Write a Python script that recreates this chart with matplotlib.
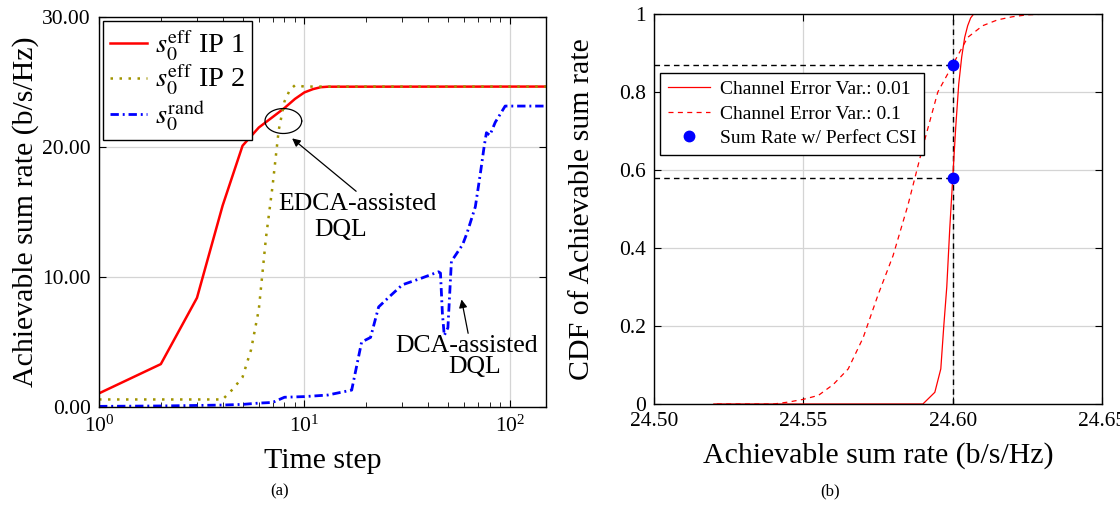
import numpy as np
import matplotlib
matplotlib.use("Agg")
import matplotlib.pyplot as plt
from matplotlib.ticker import FuncFormatter, MultipleLocator

plt.rcParams["font.family"] = ["Liberation Serif", "DejaVu Serif"]
plt.rcParams["mathtext.fontset"] = "stix"

# DATA (a): sum rate vs time step
t_ip1 = [1, 2, 3, 4, 5, 6, 7, 8, 9, 10, 11, 12, 13, 150]
r_ip1 = [1.05, 3.3, 8.4, 15.5, 20.1, 21.5, 22.3, 23.0, 23.7, 24.2, 24.45, 24.6, 24.64, 24.65]

t_ip2 = [1, 2, 3, 4, 4.5, 5, 5.5, 6, 6.5, 7, 7.5, 8, 8.5, 9, 10, 150]
r_ip2 = [0.58, 0.58, 0.58, 0.58, 1.4, 2.3, 4.4, 7.5, 13.0, 17.0, 21.3, 23.5, 24.4, 24.75, 24.65, 24.65]

t_rand = [1, 2, 3, 4, 5, 6, 7, 8, 10, 13, 17, 19, 21, 23, 26, 30, 37, 45, 46, 47,
          48, 50, 52, 53, 59, 62, 68, 72, 75, 77, 80, 85, 95, 150]
r_rand = [0.05, 0.08, 0.12, 0.15, 0.2, 0.3, 0.35, 0.75, 0.8, 0.92, 1.3, 5.0, 5.35, 7.7, 8.5, 9.4, 9.9, 10.4, 10.3, 7.2,
          5.5, 6.1, 11.2, 11.4, 12.5, 13.4, 15.4, 18.0, 20.0, 21.1, 20.9, 21.9, 23.15, 23.15]

# DATA (b): CDF of achievable sum rate
x_var001 = [24.520, 24.590, 24.594, 24.596, 24.597, 24.598, 24.599, 24.600, 24.601, 24.602,
            24.603, 24.604, 24.605, 24.606, 24.607, 24.612]
cdf_var001 = [0, 0, 0.03, 0.09, 0.2, 0.3, 0.45, 0.58, 0.71, 0.82, 0.89, 0.94, 0.97, 0.99, 1.0, 1.0]

x_var01 = [24.521, 24.540, 24.545, 24.550, 24.555, 24.560, 24.565, 24.570, 24.575, 24.580, 24.585,
           24.590, 24.595, 24.600, 24.605, 24.610, 24.615, 24.620, 24.625, 24.633]
cdf_var01 = [0, 0, 0.005, 0.012, 0.022, 0.05, 0.09, 0.17, 0.28, 0.38, 0.51, 0.66, 0.80, 0.87, 0.94,
             0.97, 0.985, 0.993, 0.998, 1.0]

perfect_x = [24.60, 24.60]
perfect_cdf = [0.87, 0.58]

# PLOT
fig = plt.figure(figsize=(11.2, 5.27), dpi=100)
ax1 = fig.add_axes([0.0884, 0.2277, 0.399, 0.740])
ax2 = fig.add_axes([0.584, 0.2334, 0.400, 0.740])

for ax in (ax1, ax2):
    ax.set_axisbelow(True)
    ax.grid(True, which="major", color="#d4d4d4", lw=0.9)
    ax.tick_params(which="both", direction="in", top=True, right=True, labelsize=15.5, pad=6)
    ax.tick_params(which="major", length=5, width=0.8)
    ax.tick_params(which="minor", length=3.5, width=0.6)
    for s in ax.spines.values():
        s.set_linewidth(1.0)

# (a)
ax1.plot(t_ip1, r_ip1, color="red", lw=1.8, label=r"$s_0^{\mathrm{eff}}$ IP 1")
ax1.plot(t_ip2, r_ip2, color="#a09400", lw=1.8, dashes=(1, 2.6), label=r"$s_0^{\mathrm{eff}}$ IP 2")
ax1.plot(t_rand, r_rand, color="blue", lw=2.0, dashes=(3.0, 1.4, 0.7, 1.4), label=r"$s_0^{\mathrm{rand}}$")
ax1.set_xscale("log")
ax1.set_xlim(1, 150)
ax1.set_ylim(0, 30)
ax1.yaxis.set_major_locator(MultipleLocator(10))
ax1.yaxis.set_major_formatter(FuncFormatter(lambda v, p: "%.2f" % v))
ax1.set_xlabel("Time step", fontsize=21.5, labelpad=8)
ax1.set_ylabel("Achievable sum rate (b/s/Hz)", fontsize=21.5, labelpad=2)
ax1.legend(loc="upper left", fontsize=20.5, frameon=True, fancybox=False, framealpha=1,
           edgecolor="black", borderaxespad=0.15, handlelength=1.3, labelspacing=0.02,
           borderpad=0.25, handletextpad=0.25).get_frame().set_linewidth(1.0)

# ellipse around the crossing
th = np.linspace(0, 2 * np.pi, 200)
lc, ld, yc, yd = np.log10(7.9), 0.0894, 22.0, 0.96
ax1.plot(10 ** (lc + ld * np.cos(th)), yc + yd * np.sin(th), color="black", lw=0.9, zorder=6)
ax1.annotate("", xy=(8.51, 20.8), xytext=(18.3, 16.46),
             arrowprops=dict(arrowstyle="-|>", color="black", lw=0.9, mutation_scale=12))
ax1.text(18.07, 15.6, "EDCA-assisted", fontsize=18.5, ha="center", va="center")
ax1.text(15.1, 13.6, "DQL", fontsize=18.5, ha="center", va="center")
ax1.annotate("", xy=(57.9, 8.48), xytext=(63.1, 5.46),
             arrowprops=dict(arrowstyle="-|>", color="black", lw=0.9, mutation_scale=12))
ax1.text(62.0, 4.7, "DCA-assisted", fontsize=18.5, ha="center", va="center")
ax1.text(67.3, 3.07, "DQL", fontsize=18.5, ha="center", va="center")

# (b)
ax2.plot([24.60, 24.60], [0, 1], color="black", lw=1.0, dashes=(4, 3))
ax2.plot([24.50, 24.60], [0.87, 0.87], color="black", lw=1.0, dashes=(4, 3))
ax2.plot([24.50, 24.60], [0.58, 0.58], color="black", lw=1.0, dashes=(4, 3))
ax2.plot(x_var001, cdf_var001, color="red", lw=0.9, label="Channel Error Var.: 0.01")
ax2.plot(x_var01, cdf_var01, color="red", lw=0.9, dashes=(4, 3.5), label="Channel Error Var.: 0.1")
ax2.plot(perfect_x, perfect_cdf, "o", color="blue", ms=7.5, label="Sum Rate w/ Perfect CSI", zorder=5)
ax2.set_xlim(24.50, 24.65)
ax2.set_ylim(0, 1)
ax2.set_xticks([24.50, 24.55, 24.60, 24.65])
ax2.xaxis.set_major_formatter(FuncFormatter(lambda v, p: "%.2f" % v))
ax2.yaxis.set_major_locator(MultipleLocator(0.2))
ax2.yaxis.set_major_formatter(FuncFormatter(lambda v, p: "%g" % round(v, 2)))
ax2.set_xlabel("Achievable sum rate (b/s/Hz)", fontsize=21.5, labelpad=8)
ax2.set_ylabel("CDF of Achievable sum rate", fontsize=21.5, labelpad=17)
ax2.legend(loc="upper left", bbox_to_anchor=(0.013, 0.849), fontsize=14, frameon=True, fancybox=False,
           framealpha=1, edgecolor="black", borderaxespad=0, handlelength=2.2, labelspacing=0.35,
           borderpad=0.4, handletextpad=0.5).get_frame().set_linewidth(1.0)

fig.text(0.25, 0.068, "(a)", fontsize=12, ha="center", va="center")
fig.text(0.741, 0.068, "(b)", fontsize=12, ha="center", va="center")

plt.savefig("out.png", dpi=100)
